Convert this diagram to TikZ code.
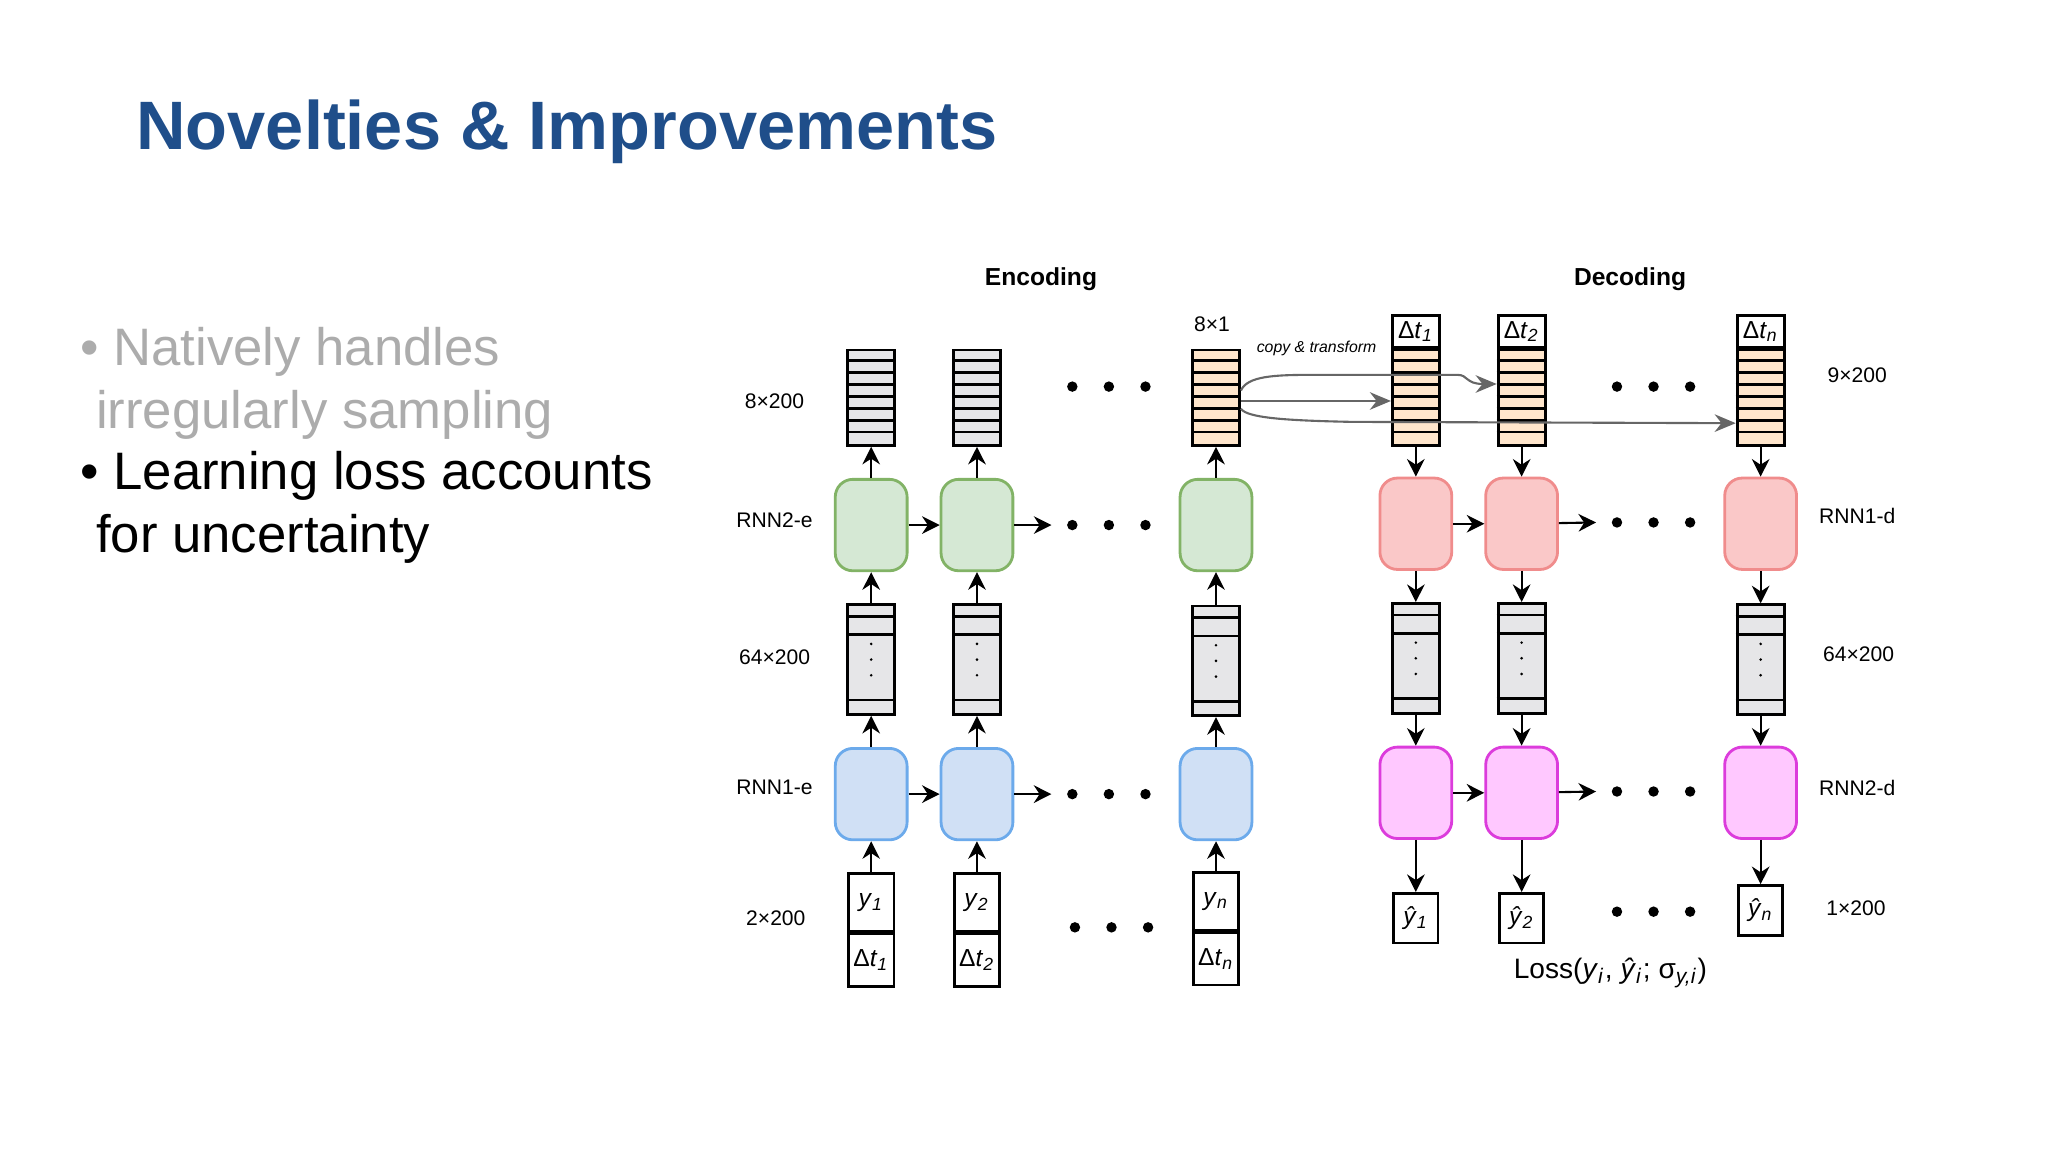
\documentclass[tikz,border=0pt]{standalone}
\usepackage{fontspec}
\setmainfont{Liberation Sans}
\usepackage{tikz}
\usetikzlibrary{arrows.meta,positioning,calc}
\newdimen\pxu \pxu=0.013061cm
\definecolor{titleblue}{RGB}{31,78,138}
\definecolor{encgreen}{RGB}{213,232,212}
\definecolor{encgreend}{RGB}{130,179,102}
\definecolor{encblue}{RGB}{208,224,245}
\definecolor{encblued}{RGB}{108,170,235}
\definecolor{decred}{RGB}{250,200,200}
\definecolor{decredd}{RGB}{240,140,140}
\definecolor{decpink}{RGB}{255,200,255}
\definecolor{decpinkd}{RGB}{220,60,220}
\definecolor{cellorange}{RGB}{255,230,204}
\definecolor{cellgray}{RGB}{230,230,232}
\newcommand{\vy}[1]{\textit{y}\textsubscript{\textit{#1}}}
\newcommand{\vyh}[1]{\textit{ŷ}\textsubscript{\textit{#1}}}
\newcommand{\vdt}[1]{Δ\textit{t}\textsubscript{\textit{#1}}}
\newcommand{\cellstack}[4]{% name, x, top y, fill
  \node[stack, fill=#4] (#1) at (#2,#3+36.5) {};
  \foreach \k in {1,...,7} \draw[thick] ($(#1.north west)+(0,\k*9.125)$) -- ($(#1.north east)+(0,\k*9.125)$);}
\newcommand{\midstack}[3]{% name, x, top y
  \node[mid] (#1) at (#2,#3+42) {};
  \foreach \k in {10,24,74} \draw[thick] ($(#1.north west)+(0,\k)$) -- ($(#1.north east)+(0,\k)$);
  \foreach \k in {-12,0,12} \fill ($(#1.center)+(0,\k)$) circle (1.1);}
\newcommand{\threedots}[2]{% start x, y
  \foreach \k in {0,28,56} \fill (#1+\k,#2) circle (4);}
\begin{document}
\begin{tikzpicture}[x=0.013061cm, y=-0.013061cm,
  stack/.style={draw, thick, minimum width=36\pxu, minimum height=73\pxu, inner sep=0pt},
  mid/.style={draw, thick, fill=cellgray, minimum width=36\pxu, minimum height=84\pxu, inner sep=0pt},
  rnn/.style={draw, rounded corners=5pt, thick, minimum width=55\pxu, minimum height=70\pxu},
  cell/.style={draw, thick, fill=white, text width=35\pxu, align=center, minimum height=40\pxu, inner sep=0pt, font=\fontsize{7}{8}\selectfont},
  hcell/.style={draw, thick, fill=white, text width=36\pxu, align=center, minimum height=24\pxu, inner sep=0pt, font=\fontsize{7}{8}\selectfont},
  arrow/.style={-{Stealth[length=5pt,width=5pt]}, semithick},
  copy/.style={-{Stealth[length=6pt,width=5pt]}, semithick, gray!80!black},
  label/.style={font=\fontsize{6}{7}\selectfont},
  head/.style={font=\fontsize{7}{8}\selectfont\bfseries}
]
\useasboundingbox (0,0) rectangle (1568,882);

% Title and bullets
\node[anchor=west, text=titleblue, font=\fontsize{19.5}{24}\selectfont\bfseries] (title) at (95,101) {Novelties \& Improvements};
\node[anchor=north west, text=gray!65, align=left, font=\fontsize{15}{18}\selectfont] (b1) at (52,241)
  {\textbullet\ Natively handles\\\hspace{0.3em}irregularly sampling};
\node[anchor=north west, align=left, font=\fontsize{15}{18}\selectfont] (b2) at (52,336)
  {\textbullet\ Learning loss accounts\\\hspace{0.3em}for uncertainty};

% Headings and side labels
\node[head] (enc) at (797,214) {Encoding};
\node[head] (dec) at (1248,214) {Decoding};
\node[label] (l1) at (593,307) {8×200};
\node[label] (l2) at (593,398) {RNN2-e};
\node[label] (l3) at (593,503) {64×200};
\node[label] (l4) at (593,603) {RNN1-e};
\node[label] (l5) at (594,703) {2×200};
\node[label] (r1) at (1422,287) {9×200};
\node[label] (r2) at (1422,395) {RNN1-d};
\node[label] (r3) at (1423,501) {64×200};
\node[label] (r4) at (1422,603) {RNN2-d};
\node[label] (r5) at (1421,695) {1×200};
\node[label] (dim) at (928,248) {8×1};
\node[font=\fontsize{4.5}{5}\selectfont\itshape] (ct) at (1008,267) {copy \& transform};
\node[font=\fontsize{8}{9}\selectfont] (loss) at (1233,745) {Loss(\vy{i}, \vyh{i}; σ\textsubscript{\textit{y,i}})};

% Encoder
\cellstack{et1}{667}{268}{cellgray}
\cellstack{et2}{748}{268}{cellgray}
\cellstack{et3}{931}{268}{cellorange}
\node[rnn, fill=encgreen, draw=encgreend] (g1) at (667,402) {};
\node[rnn, fill=encgreen, draw=encgreend] (g2) at (748,402) {};
\node[rnn, fill=encgreen, draw=encgreend] (g3) at (931,402) {};
\midstack{em1}{667}{463}
\midstack{em2}{748}{463}
\midstack{em3}{931}{464}
\node[rnn, fill=encblue, draw=encblued] (b1r) at (667,608) {};
\node[rnn, fill=encblue, draw=encblued] (b2r) at (748,608) {};
\node[rnn, fill=encblue, draw=encblued] (b3r) at (931,608) {};
\node[cell, minimum height=44\pxu] (y1) at (667,691) {\vy{1}};
\node[cell, below=0pt of y1] (d1) {\vdt{1}};
\node[cell, minimum height=44\pxu] (y2) at (748,691) {\vy{2}};
\node[cell, below=0pt of y2] (d2) {\vdt{2}};
\node[cell, minimum height=44\pxu] (y3) at (931,690) {\vy{n}};
\node[cell, below=0pt of y3] (d3) {\vdt{n}};

\foreach \c in {1,2,3} {
  \draw[arrow] (y\c) -- (b\c r);
  \draw[arrow] (b\c r) -- (em\c);
  \draw[arrow] (em\c) -- (g\c);
  \draw[arrow] (g\c) -- (et\c);
}
\coordinate (ge) at (805,402);
\coordinate (be) at (805,608);
\draw[arrow] (g1) -- (g2);
\draw[arrow] (g2) -- (ge);
\draw[arrow] (b1r) -- (b2r);
\draw[arrow] (b2r) -- (be);
\threedots{821}{296}
\threedots{821}{402}
\threedots{821}{608}
\threedots{823}{710}

% Decoder
\cellstack{dt1}{1084}{268}{cellorange}
\cellstack{dt2}{1165}{268}{cellorange}
\cellstack{dt3}{1348}{268}{cellorange}
\node[hcell, above=0pt of dt1] (h1) {\vdt{1}};
\node[hcell, above=0pt of dt2] (h2) {\vdt{2}};
\node[hcell, above=0pt of dt3] (h3) {\vdt{n}};
\node[rnn, fill=decred, draw=decredd] (p1) at (1084,401) {};
\node[rnn, fill=decred, draw=decredd] (p2) at (1165,401) {};
\node[rnn, fill=decred, draw=decredd] (p3) at (1348,401) {};
\midstack{dm1}{1084}{462}
\midstack{dm2}{1165}{462}
\midstack{dm3}{1348}{463}
\node[rnn, fill=decpink, draw=decpinkd] (m1) at (1084,607) {};
\node[rnn, fill=decpink, draw=decpinkd] (m2) at (1165,607) {};
\node[rnn, fill=decpink, draw=decpinkd] (m3) at (1348,607) {};
\node[cell, text width=34\pxu, minimum height=38\pxu] (o1) at (1084,703) {\vyh{1}};
\node[cell, text width=34\pxu, minimum height=38\pxu] (o2) at (1165,703) {\vyh{2}};
\node[cell, text width=34\pxu, minimum height=38\pxu] (o3) at (1348,697) {\vyh{n}};

\foreach \c in {1,2,3} {
  \draw[arrow] (dt\c) -- (p\c);
  \draw[arrow] (p\c) -- (dm\c);
  \draw[arrow] (dm\c) -- (m\c);
  \draw[arrow] (m\c) -- (o\c);
}
\coordinate (pe) at (1222,400);
\coordinate (me) at (1222,606);
\draw[arrow] (p1) -- (p2);
\draw[arrow] (p2) -- (pe);
\draw[arrow] (m1) -- (m2);
\draw[arrow] (m2) -- (me);
\threedots{1238}{296}
\threedots{1238}{400}
\threedots{1238}{606}
\threedots{1238}{698}

% Copy & transform
\draw[copy] (et3.east |- 0,307) -- (dt1.west |- 0,307);
\draw[copy] (et3.east |- 0,299) .. controls (955,288) and (975,287) .. (1005,287)
  -- (1116,287) .. controls (1124,287) and (1122,294) .. (dt2.west |- 0,294);
\draw[copy] (et3.east |- 0,313) .. controls (955,320) and (985,322) .. (1035,323)
  -- (dt3.west |- 0,324);
\end{tikzpicture}
\end{document}
